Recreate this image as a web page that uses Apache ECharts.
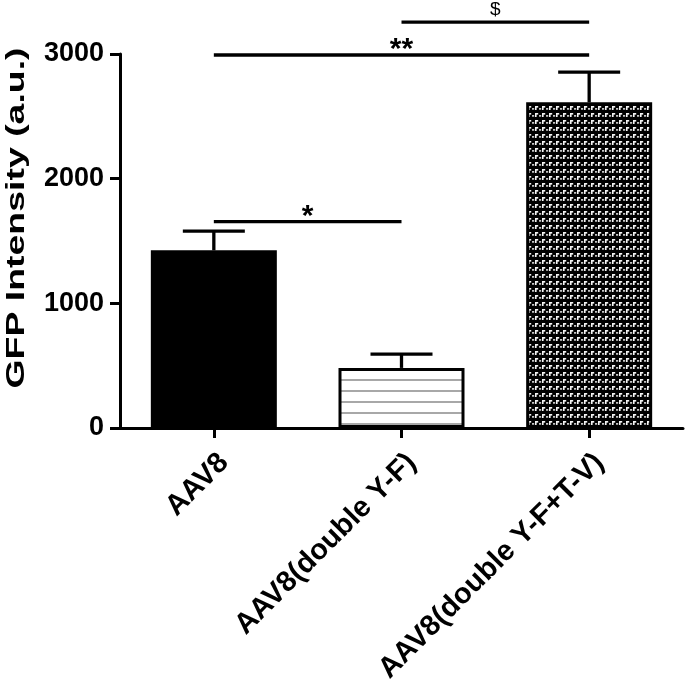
<!DOCTYPE html>
<html>
<head>
<meta charset="utf-8">
<script src="https://cdn.jsdelivr.net/npm/echarts@6/dist/echarts.min.js"></script>
<style>html,body{margin:0;padding:0;background:#fff;}#chart{width:685px;height:680px;}</style>
</head>
<body>
<div id="chart"></div>
<script>
// ---- data ----
const categories = ['AAV8', 'AAV8(double Y-F)', 'AAV8(double Y-F+T-V)'];
const means = [1425, 482, 2612];
const upperErr = [1580, 593, 2855];
const yMin = 0, yMax = 3000, yStep = 1000;
const yAxisTitle = 'GFP Intensity (a.u.)';
// [fromCategoryIndex, toCategoryIndex, value level, label]
const sigStars = [[0, 1, 1655, '*'], [0, 2, 2992, '**']];
const sigOther = [[1, 2, 3255, '$']];

// ---- patterns ----
function linePattern() {
  const c = document.createElement('canvas');
  c.width = 10; c.height = 11;
  const g = c.getContext('2d');
  g.fillStyle = '#ffffff'; g.fillRect(0, 0, 10, 11);
  g.fillStyle = '#a8a8a8'; g.fillRect(0, 5, 10, 2);
  return c;
}
function checkPattern() {
  const c = document.createElement('canvas');
  c.width = 7; c.height = 7;
  const g = c.getContext('2d');
  g.fillStyle = '#000000'; g.fillRect(0, 0, 7, 7);
  g.fillStyle = '#f4f4f4';
  g.fillRect(3, 1, 3.2, 1.6);
  g.fillRect(3, 1, 1.6, 4);
  g.fillRect(0, 3.2, 2.2, 1.4);
  return c;
}
const barStyles = [
  { color: '#000000', borderColor: '#000', borderWidth: 3 },
  { color: { image: linePattern(), repeat: 'repeat' }, borderColor: '#000', borderWidth: 3 },
  { color: { image: checkPattern(), repeat: 'repeat' }, borderColor: '#000', borderWidth: 3 }
];

const FONT = '"Liberation Sans", Arial, sans-serif';
const chart = echarts.init(document.getElementById('chart'), null, { renderer: 'canvas' });

function sigRender(list, fontWeight, fontSize, gap) {
  return function (params, api) {
    const a = api.coord([api.value(0), api.value(2)]);
    const b = api.coord([api.value(1), api.value(2)]);
    const label = list[params.dataIndex][3];
    return {
      type: 'group',
      children: [
        { type: 'line', shape: { x1: a[0], y1: a[1], x2: b[0], y2: b[1] },
          style: { stroke: '#000', lineWidth: 3.3 } },
        { type: 'text', x: (a[0] + b[0]) / 2, y: a[1] - gap,
          style: { text: label, align: 'center', verticalAlign: 'middle',
                   font: fontWeight + ' ' + fontSize + 'px ' + FONT, fill: '#000' } }
      ]
    };
  };
}

const option = {
  backgroundColor: '#ffffff',
  animation: false,
  grid: { left: 120, right: 2, top: 54, bottom: 252, containLabel: false, outerBoundsMode: 'none' },
  xAxis: {
    type: 'category',
    data: categories,
    axisLine: { show: true, lineStyle: { color: '#000', width: 3 } },
    axisTick: { show: true, alignWithLabel: true, length: 10, lineStyle: { color: '#000', width: 3 } },
    axisLabel: {
      interval: 0, rotate: 45, margin: 20, align: 'right', verticalAlign: 'top',
      color: '#000', fontFamily: FONT, fontWeight: 'bold', fontSize: 29
    },
    splitLine: { show: false }
  },
  yAxis: {
    type: 'value', min: yMin, max: yMax, interval: yStep,
    axisLine: { show: true, lineStyle: { color: '#000', width: 3 } },
    axisTick: { show: true, length: 10, lineStyle: { color: '#000', width: 3 } },
    axisLabel: { margin: 16, color: '#000', fontFamily: FONT, fontWeight: 'bold', fontSize: 27,
                 formatter: function (v) { return String(v); } },
    splitLine: { show: false }
  },
  graphic: [{
    type: 'text', x: 17, y: 218, rotation: Math.PI / 2, scaleX: 1.44, scaleY: 1,
    style: { text: yAxisTitle, align: 'center', verticalAlign: 'middle',
             font: 'bold 26px ' + FONT, fill: '#000' }
  }],
  series: [
    {
      type: 'bar', barWidth: 126,
      data: means.map((v, i) => ({ value: v, itemStyle: barStyles[i] })),
      z: 2
    },
    {
      type: 'custom', z: 3, clip: false,
      data: means.map((v, i) => [i, v, upperErr[i]]),
      renderItem: function (params, api) {
        const base = api.coord([api.value(0), api.value(1)]);
        const top = api.coord([api.value(0), api.value(2)]);
        const half = 31;
        return {
          type: 'group',
          children: [
            { type: 'line', shape: { x1: base[0], y1: base[1], x2: top[0], y2: top[1] },
              style: { stroke: '#000', lineWidth: 3.3 } },
            { type: 'line', shape: { x1: top[0] - half, y1: top[1], x2: top[0] + half, y2: top[1] },
              style: { stroke: '#000', lineWidth: 3.3 } }
          ]
        };
      }
    },
    {
      type: 'custom', z: 4, clip: false,
      data: sigStars.map(d => [d[0], d[1], d[2]]),
      renderItem: sigRender(sigStars, 'bold', 30, 5)
    },
    {
      type: 'custom', z: 4, clip: false,
      data: sigOther.map(d => [d[0], d[1], d[2]]),
      renderItem: sigRender(sigOther, 'normal', 19, 12)
    }
  ]
};
chart.setOption(option);
</script>
</body>
</html>
